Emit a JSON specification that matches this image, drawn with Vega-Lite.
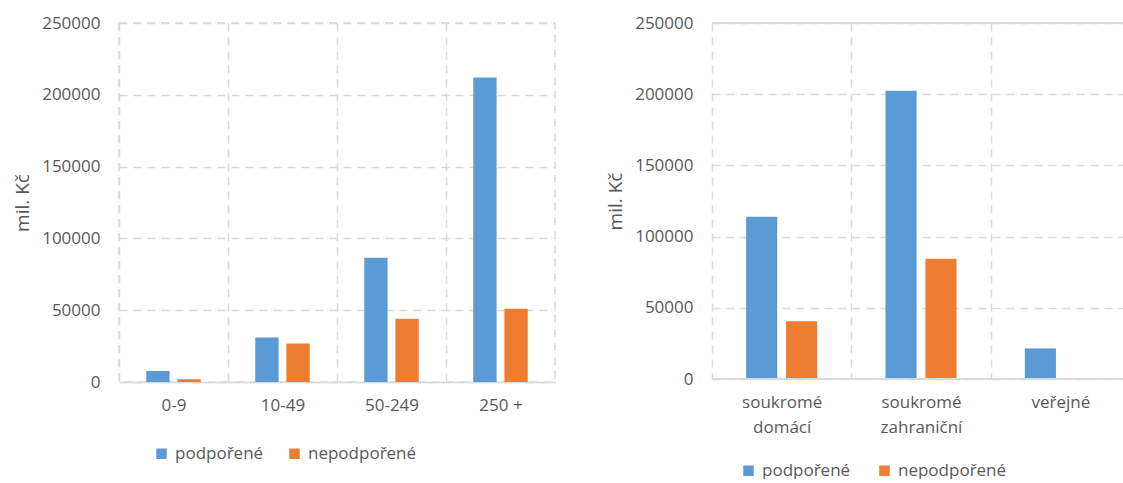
{
  "$schema": "https://vega.github.io/schema/vega-lite/v6.json",
  "padding": {"left": 12, "top": 13, "right": 0, "bottom": 0},
  "spacing": 50,
  "config": {
    "font": "Open Sans",
    "view": {"stroke": null},
    "axis": {
      "labelFont": "Open Sans",
      "labelColor": "#595959",
      "labelFontSize": 17,
      "titleFont": "Open Sans",
      "titleColor": "#595959",
      "titleFontSize": 19,
      "titleFontWeight": "normal",
      "ticks": false,
      "gridColor": "#d9d9d9",
      "gridDash": [8, 6],
      "gridWidth": 1.5,
      "domainColor": "#d9d9d9",
      "domainWidth": 1.5
    },
    "legend": {
      "labelFont": "Open Sans",
      "labelColor": "#595959",
      "labelFontSize": 17,
      "symbolType": "square",
      "symbolSize": 110,
      "symbolStrokeWidth": 0,
      "labelOffset": 5
    }
  },
  "datasets": {
    "velikost": [
      {"kategorie": "0-9", "typ": "podpořené", "hodnota": 7700},
      {"kategorie": "0-9", "typ": "nepodpořené", "hodnota": 1900},
      {"kategorie": "10-49", "typ": "podpořené", "hodnota": 31000},
      {"kategorie": "10-49", "typ": "nepodpořené", "hodnota": 26800},
      {"kategorie": "50-249", "typ": "podpořené", "hodnota": 86500},
      {"kategorie": "50-249", "typ": "nepodpořené", "hodnota": 44000},
      {"kategorie": "250 +", "typ": "podpořené", "hodnota": 212000},
      {"kategorie": "250 +", "typ": "nepodpořené", "hodnota": 51000}
    ],
    "vlastnictvi": [
      {"kategorie": "soukromé domácí", "typ": "podpořené", "hodnota": 114000},
      {"kategorie": "soukromé domácí", "typ": "nepodpořené", "hodnota": 40500},
      {"kategorie": "soukromé zahraniční", "typ": "podpořené", "hodnota": 202500},
      {"kategorie": "soukromé zahraniční", "typ": "nepodpořené", "hodnota": 84500},
      {"kategorie": "veřejné", "typ": "podpořené", "hodnota": 21500}
    ]
  },
  "resolve": {
    "scale": {"color": "independent", "x": "independent", "y": "independent", "xOffset": "independent"},
    "legend": {"color": "independent"}
  },
  "hconcat": [
    {
      "width": 436,
      "height": 359,
      "view": {"stroke": "#d9d9d9", "strokeWidth": 1.5, "strokeDash": [8, 6]},
      "data": {"name": "velikost"},
      "mark": {"type": "bar"},
      "encoding": {
        "x": {
          "field": "kategorie", "type": "nominal",
          "sort": ["0-9", "10-49", "50-249", "250 +"],
          "scale": {"paddingInner": 0.5, "paddingOuter": 0.25},
          "axis": {"title": null, "labelAngle": 0, "grid": true, "tickOffset": -54.5, "labelOffset": 54.5, "labelPadding": 15, "domain": true}
        },
        "xOffset": {
          "field": "typ", "type": "nominal",
          "sort": ["podpořené", "nepodpořené"],
          "scale": {"domain": ["podpořené", "nepodpořené"], "paddingInner": 0.25, "paddingOuter": 0}
        },
        "y": {
          "field": "hodnota", "type": "quantitative",
          "scale": {"domain": [0, 250000], "nice": false},
          "axis": {"title": "mil. Kč", "values": [0, 50000, 100000, 150000, 200000, 250000], "format": "d", "labelPadding": 19, "titlePadding": 9, "domain": false, "grid": true}
        },
        "color": {
          "field": "typ", "type": "nominal",
          "sort": ["podpořené", "nepodpořené"],
          "scale": {"domain": ["podpořené", "nepodpořené"], "range": ["#5B9BD5", "#ED7D31"]},
          "legend": {"title": null, "orient": "none", "direction": "horizontal", "legendX": 34, "legendY": 422, "columnPadding": 22}
        }
      }
    },
    {
      "width": 411,
      "height": 356,
      "data": {"name": "vlastnictvi"},
      "layer": [
        {
          "mark": {"type": "bar"},
          "encoding": {
            "x": {
              "field": "kategorie", "type": "nominal",
              "sort": ["soukromé domácí", "soukromé zahraniční", "veřejné"],
              "scale": {"range": [0, 418], "paddingInner": 0.49, "paddingOuter": 0.245},
              "axis": {"title": null, "labelAngle": 0, "grid": true, "tickOffset": -69.67, "labelOffset": 69.67, "labelPadding": 15, "domain": false, "labelExpr": "split(datum.label, ' ')", "labelLineHeight": 25}
            },
            "xOffset": {
              "field": "typ", "type": "nominal",
              "sort": ["podpořené", "nepodpořené"],
              "scale": {"domain": ["podpořené", "nepodpořené"], "paddingInner": 0.22, "paddingOuter": 0}
            },
            "y": {
              "field": "hodnota", "type": "quantitative",
              "scale": {"domain": [0, 250000], "nice": false},
              "axis": {"title": "mil. Kč", "values": [0, 50000, 100000, 150000, 200000, 250000], "format": "d", "labelPadding": 19, "titlePadding": 9, "domain": false, "grid": true}
            },
            "color": {
              "field": "typ", "type": "nominal",
              "sort": ["podpořené", "nepodpořené"],
              "scale": {"domain": ["podpořené", "nepodpořené"], "range": ["#5B9BD5", "#ED7D31"]},
              "legend": {"title": null, "orient": "none", "direction": "horizontal", "legendX": 28, "legendY": 439, "columnPadding": 25}
            }
          }
        },
        {
          "mark": {"type": "rule", "color": "#d9d9d9", "strokeWidth": 1.5},
          "encoding": {"y": {"datum": 0}}
        },
        {
          "mark": {"type": "rule", "color": "#d9d9d9", "strokeWidth": 1.5},
          "encoding": {"y": {"datum": 250000}}
        }
      ]
    }
  ]
}
